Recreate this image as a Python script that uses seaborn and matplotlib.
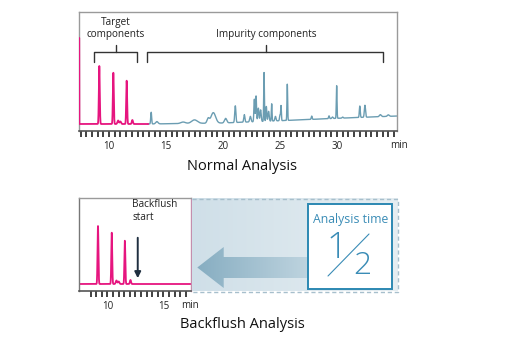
import numpy as np
import matplotlib
matplotlib.use("Agg")
import matplotlib.pyplot as plt
import seaborn as sns
from matplotlib.patches import Polygon, Rectangle
from matplotlib.colors import LinearSegmentedColormap

sns.set_style("white")
plt.rcParams['font.family'] = ['Open Sans', 'DejaVu Sans']

# ---------------- data ----------------
# target components (pink) : retention time (min), height above baseline, width (sigma, min)
target_t = [9.15, 10.38, 10.80, 11.00, 11.55, 12.05]
target_h = [58.0, 51.3, 3.5, 2.5, 43.3, 4.0]
target_w = [0.04, 0.04, 0.06, 0.06, 0.04, 0.05]

# impurity components (blue)
impurity_t = [13.70, 14.20, 16.50, 17.50, 18.70, 19.15, 20.23, 21.08, 21.87, 22.40,
              22.75, 22.90, 23.10, 23.30, 23.60, 23.80, 24.00, 24.27, 24.60, 25.00,
              25.09, 25.64, 27.78, 29.30, 29.60, 29.97, 30.50, 32.00, 32.45, 33.80, 34.50]
impurity_h = [11.7, 2.3, 1.5, 3.5, 4.6, 10.5, 4.5, 16.7, 7.5, 5.5,
              22.5, 25.7, 13.4, 11.6, 48.8, 14.8, 9.8, 17.3, 4.5, 5.8,
              14.7, 36.2, 3.3, 2.8, 1.5, 32.7, 1.0, 11.4, 12.0, 2.0, 1.5]
impurity_w = [0.04, 0.10, 0.20, 0.25, 0.10, 0.20, 0.10, 0.05, 0.05, 0.06,
              0.04, 0.04, 0.05, 0.05, 0.03, 0.04, 0.05, 0.03, 0.05, 0.04,
              0.03, 0.03, 0.04, 0.04, 0.05, 0.03, 0.05, 0.04, 0.05, 0.08, 0.08]

# drifting baseline of the normal analysis
base_t = [13.4, 20.0, 25.0, 30.0, 35.3]
base_v = [7.0, 8.0, 10.3, 12.7, 15.0]
pink_base = 7.0
start_spike = 93.0          # solvent front at left edge of normal run

major_ticks = [10, 15, 20, 25, 30]
major_ticks_bf = [10, 15]
backflush_start = 12.7

pink = "#e6157f"
blue = "#6b9db2"

def trace(t, times, heights, widths, base):
    y = np.array(base, dtype=float) * np.ones_like(t)
    for c, h, w in zip(times, heights, widths):
        y = y + h * np.exp(-0.5 * ((t - c) / w) ** 2)
    return y

fig = plt.figure(figsize=(5.12, 3.5), dpi=100)
W, H = 512.0, 350.0

def px_axes(x0, y0, x1, y1):
    return fig.add_axes([x0 / W, 1 - y1 / H, (x1 - x0) / W, (y1 - y0) / H])

# ---------------- normal analysis ----------------
ax1 = px_axes(78.7, 12, 396.7, 131)
x1lim = (10 - (109 - 78.7) / 11.4, 10 + (396.7 - 109) / 11.4)
x_front = x1lim[0] + 0.05
tp = np.arange(x_front + 0.01, 13.45, 0.004)
yp = trace(tp, target_t, target_h, target_w, pink_base)
tp = np.concatenate([[x_front, x_front + 0.005], tp])
yp = np.concatenate([[start_spike, pink_base], yp])
sns.lineplot(x=tp, y=yp, ax=ax1, color=pink, lw=1.3, estimator=None, sort=False, zorder=5)
tb = np.arange(13.4, x1lim[1], 0.004)
yb = trace(tb, impurity_t, impurity_h, impurity_w, np.interp(tb, base_t, base_v))
sns.lineplot(x=tb, y=yb, ax=ax1, color=blue, lw=1.0, estimator=None, sort=False)
ax1.set_xlim(*x1lim)
ax1.set_ylim(0, 119)

# ---------------- backflush analysis ----------------
ax2 = px_axes(79, 198, 190.7, 291)
x2lim = (10 - 28.5 / 11.2, 10 + 83.2 / 11.2)
tq = np.arange(x2lim[0], x2lim[1], 0.004)
yq = trace(tq, target_t, target_h, target_w, pink_base)
sns.lineplot(x=tq, y=yq, ax=ax2, color=pink, lw=1.3, estimator=None, sort=False)
ax2.set_xlim(*x2lim)
ax2.set_ylim(0, 93)

for ax, majors, mstart, mend in [(ax1, major_ticks, 7.5, 35.0), (ax2, major_ticks_bf, 8.5, 17.0)]:
    ax.set_xticks(majors)
    ax.set_xticklabels([str(m) for m in majors])
    ax.set_xticks(np.arange(mstart, mend + 0.01, 0.5), minor=True)
    ax.set_yticks([])
    ax.set_xlabel("")
    ax.set_ylabel("")
    ax.tick_params(axis='x', which='both', bottom=True, direction='out', length=4, width=1.3,
                   color="#333333", pad=3, labelsize=7, labelcolor="#222222")
    for s in ax.spines.values():
        s.set_color("#9a9a9a")
        s.set_linewidth(1.0)
    ax.spines['bottom'].set_color("#555555")
    ax.spines['bottom'].set_linewidth(1.2)
    ax.set_facecolor("white")
ax2.spines['right'].set_color("#c48fad")
ax2.spines['left'].set_color("#777777")

# brackets & labels in the normal analysis
def bracket(ax, a, b, mid, y, yend, ytop):
    ax.plot([a, a, b, b], [yend, y, y, yend], color="#333333", lw=1.0)
    ax.plot([mid, mid], [y, ytop], color="#333333", lw=1.0)

bracket(ax1, 8.71, 12.43, 10.59, 79, 69, 86)
bracket(ax1, 13.36, 34.06, 23.75, 79, 69, 86)
ax1.text(10.59, 108, "Target", ha='center', va='center', fontsize=7.2, color="#222222")
ax1.text(10.59, 96, "components", ha='center', va='center', fontsize=7.2, color="#222222")
ax1.text(23.75, 97, "Impurity components", ha='center', va='center', fontsize=7.2, color="#222222")

# backflush start arrow
ax2.annotate("", xy=(backflush_start, 10), xytext=(backflush_start, 56),
             arrowprops=dict(arrowstyle="-|>", color="#1f2f40", lw=1.4, mutation_scale=9))
ax2.text(12.2, 86, "Backflush", ha='left', va='center', fontsize=7.2, color="#222222")
ax2.text(12.2, 73, "start", ha='left', va='center', fontsize=7.2, color="#222222")

# ---------------- overlay (pixel coordinates) ----------------
ov = fig.add_axes([0, 0, 1, 1])
ov.set_xlim(0, W)
ov.set_ylim(H, 0)
ov.axis('off')
ov.patch.set_alpha(0)

fig.text(399 / W, 1 - 145 / H, "min", ha='center', va='center', fontsize=7, color="#222222")
fig.text(190 / W, 1 - 305 / H, "min", ha='center', va='center', fontsize=7, color="#222222")
fig.text(242 / W, 1 - 166 / H, "Normal Analysis", ha='center', va='center', fontsize=10.5, color="#111111")
fig.text(242 / W, 1 - 325 / H, "Backflush Analysis", ha='center', va='center', fontsize=10.5, color="#111111")

# shaded region
bg_cmap = LinearSegmentedColormap.from_list("bg", ["#cfdfe8", "#e6eef2"])
grad = np.linspace(0, 1, 256).reshape(1, -1)
ov.imshow(grad, cmap=bg_cmap, extent=[191.5, 397.5, 291.5, 198.5], aspect='auto', zorder=1)
ov.plot([191.5, 397.5, 397.5, 191.5], [198.5, 198.5, 291.5, 291.5], color="#a7bfcc",
        lw=1.0, ls=(0, (3, 2)), zorder=2)

# big arrow
arrow_pts = [(197.3, 267.5), (223.7, 247), (223.7, 257), (312, 257), (312, 278), (223.7, 278), (223.7, 288)]
arr = Polygon(arrow_pts, closed=True, facecolor='none', edgecolor='none', zorder=3)
ov.add_patch(arr)
ar_cmap = LinearSegmentedColormap.from_list("ar", ["#86adc1", "#c0d5e0"])
im = ov.imshow(grad, cmap=ar_cmap, extent=[196, 312, 289, 246], aspect='auto', zorder=3)
im.set_clip_path(arr)

# analysis time box
ov.add_patch(Rectangle((308, 204), 84, 85, facecolor='white', edgecolor="#2c88b2", lw=1.4, zorder=4))
ov.text(350.5, 220, "Analysis time", ha='center', va='center', fontsize=8.8, color="#3a8cb6", zorder=5)
ov.text(337, 248, "1", ha='center', va='center', fontsize=26, color="#3a8cb6",
        fontweight='light', zorder=5)
ov.text(362, 266, "2", ha='center', va='center', fontsize=23, color="#3a8cb6",
        fontweight='light', zorder=5)
ov.plot([328, 369], [276, 234], color="#3a8cb6", lw=0.8, zorder=5)

fig.savefig("out.png", dpi=100, facecolor="white")
